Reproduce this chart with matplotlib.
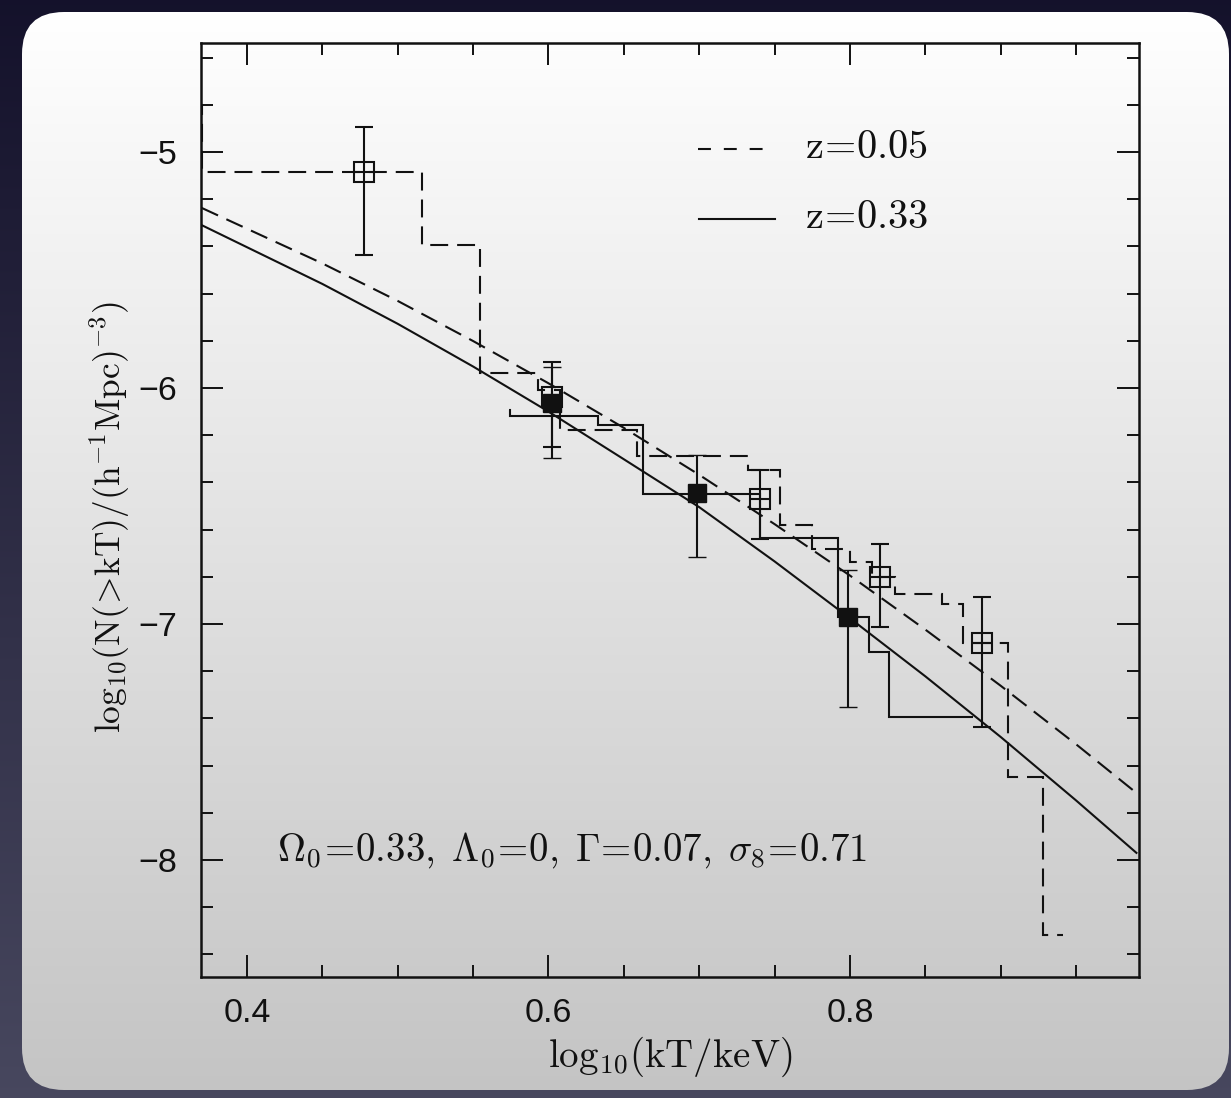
import numpy as np
import matplotlib
matplotlib.use("Agg")
import matplotlib.pyplot as plt
from matplotlib.patches import FancyBboxPatch
from matplotlib.ticker import MultipleLocator
from matplotlib.lines import Line2D

plt.rcParams['mathtext.fontset'] = 'cm'

# ---------------- data ----------------
model_x = [0.37, 0.45, 0.50, 0.55, 0.60, 0.65, 0.70, 0.75, 0.80, 0.85, 0.90, 0.95, 0.99]
model_z005 = [-5.237, -5.472, -5.631, -5.801, -5.980, -6.169, -6.368, -6.577,
              -6.795, -7.024, -7.262, -7.510, -7.716]
model_z033 = [-5.310, -5.559, -5.728, -5.909, -6.100, -6.302, -6.505, -6.735,
              -6.976, -7.222, -7.479, -7.748, -7.970]

hist_z005_edges = [0.365, 0.3702, 0.5161, 0.5546, 0.5930, 0.6076, 0.6590, 0.7323,
                   0.7536, 0.7748, 0.8000, 0.8146, 0.8298, 0.8610, 0.8750, 0.9048,
                   0.9280, 0.9413]
hist_z005_vals = [-4.80, -5.085, -5.394, -5.936, -6.008, -6.178, -6.288, -6.347,
                  -6.581, -6.682, -6.737, -6.801, -6.873, -6.915, -7.081, -7.648,
                  -8.318]

hist_z033_edges = [0.5740, 0.5745, 0.6328, 0.6627, 0.7403, 0.7920, 0.8126, 0.8259, 0.8816]
hist_z033_vals = [-6.095, -6.119, -6.157, -6.449, -6.636, -6.970, -7.119, -7.394]

pts_z005_x = [0.4776, 0.6023, 0.7403, 0.8199, 0.8876]
pts_z005_y = [-5.085, -6.038, -6.470, -6.801, -7.081]
pts_z005_lo = [-5.436, -6.250, -6.640, -7.013, -7.436]
pts_z005_hi = [-4.894, -5.890, -6.347, -6.661, -6.886]

pts_z033_x = [0.6023, 0.6988, 0.7990]
pts_z033_y = [-6.064, -6.447, -6.972]
pts_z033_lo = [-6.297, -6.716, -7.352]
pts_z033_hi = [-5.911, -6.284, -6.771]

x_ticks = [0.4, 0.6, 0.8]
x_ticklabels = ["0.4", "0.6", "0.8"]
y_ticks = [-8, -7, -6, -5]
y_ticklabels = ["\u22128", "\u22127", "\u22126", "\u22125"]

legend_labels = [r"$\mathrm{z\!=\!0.05}$", r"$\mathrm{z\!=\!0.33}$"]
annotation = (r"$\Omega_0\!=\!0.33,\;\Lambda_0\!=\!0,\;\Gamma\!=\!0.07,"
              r"\;\sigma_8\!=\!0.71$")
xlabel = r"$\mathrm{log_{10}(kT/keV)}$"
ylabel = r"$\mathrm{log_{10}(N(\!>\!kT)/(h^{-1}Mpc)^{-3})}$"

# ---------------- figure / background ----------------
W, H = 1231, 1098
fig = plt.figure(figsize=(W / 100, H / 100), dpi=100)

bg = fig.add_axes([0, 0, 1, 1], zorder=-10)
bg.set_xlim(0, W)
bg.set_ylim(H, 0)
bg.axis('off')

t = np.linspace(0, 1, 256)[:, None, None]
top_c = np.array([0.08, 0.07, 0.17])
bot_c = np.array([0.28, 0.28, 0.37])
navy = top_c * (1 - t) + bot_c * t
navy = np.repeat(navy, 4, axis=1)
bg.imshow(navy, extent=(0, W, H, 0), aspect='auto', interpolation='bilinear')

panel = FancyBboxPatch((22, 12), 1207, 1078,
                       boxstyle='round,pad=0,rounding_size=42',
                       fc='none', ec='none')
bg.add_patch(panel)
ptop = np.array([1.0, 1.0, 1.0])
pbot = np.array([0.77, 0.77, 0.77])
pan = ptop * (1 - t) + pbot * t
pan = np.repeat(pan, 4, axis=1)
im = bg.imshow(pan, extent=(22, 1229, 1090, 12), aspect='auto', interpolation='bilinear')
im.set_clip_path(panel)

# ---------------- main axes ----------------
L, R, T, B = 201, 1139, 43, 977
ax = fig.add_axes([L / W, 1 - B / H, (R - L) / W, (B - T) / H])
ax.set_facecolor('none')
ax.set_xlim(0.3695, 0.9917)
ax.set_ylim(-8.496, -4.538)

k = '#111111'
lw = 1.5

ax.plot(model_x, model_z005, color=k, lw=lw, dashes=[8.6, 4.4])
ax.plot(model_x, model_z033, color=k, lw=lw)

ax.stairs(hist_z005_vals, hist_z005_edges, baseline=None, color=k, lw=lw,
          linestyle=(0, (8.6, 4.3)))
ax.stairs(hist_z033_vals, hist_z033_edges, baseline=None, color=k, lw=lw)

yerr5 = [np.array(pts_z005_y) - np.array(pts_z005_lo),
         np.array(pts_z005_hi) - np.array(pts_z005_y)]
ax.errorbar(pts_z005_x, pts_z005_y, yerr=yerr5, fmt='s', ms=14, mfc='none',
            mec=k, mew=1.5, ecolor=k, elinewidth=lw, capsize=6.5, capthick=lw)
ax.plot(pts_z005_x, pts_z005_y, '_', ms=15, mew=1.5, color=k)

yerr33 = [np.array(pts_z033_y) - np.array(pts_z033_lo),
          np.array(pts_z033_hi) - np.array(pts_z033_y)]
ax.errorbar(pts_z033_x, pts_z033_y, yerr=yerr33, fmt='s', ms=13.5, mfc=k,
            mec=k, mew=1.0, ecolor=k, elinewidth=lw, capsize=6.5, capthick=lw)

# ticks
for s in ax.spines.values():
    s.set_linewidth(1.8)
    s.set_color(k)
ax.set_xticks(x_ticks)
ax.set_xticklabels(x_ticklabels)
ax.set_yticks(y_ticks)
ax.set_yticklabels(y_ticklabels)
ax.xaxis.set_minor_locator(MultipleLocator(0.05))
ax.yaxis.set_minor_locator(MultipleLocator(0.2))
ax.tick_params(which='both', direction='in', top=True, right=True, color=k,
               width=1.4)
ax.tick_params(which='major', length=16)
ax.tick_params(which='minor', length=8.6)
ax.tick_params(axis='x', which='major', pad=15)
ax.tick_params(axis='y', which='major', pad=17)
for lab in ax.get_xticklabels() + ax.get_yticklabels():
    lab.set_fontfamily('Liberation Sans')
    lab.set_fontsize(24.5)
    lab.set_color(k)


def axc(px, py):
    return ((px - L) / (R - L), (B - py) / (B - T))


# legend (manual)
x0, y0 = axc(698, 149)
x1, _ = axc(765, 149)
ax.add_line(Line2D([x0, x1], [y0, y0], transform=ax.transAxes, color=k, lw=lw,
                   dashes=[6.2, 6.2]))
x0, y1 = axc(699, 219)
x1, _ = axc(775, 219)
ax.add_line(Line2D([x0, x1], [y1, y1], transform=ax.transAxes, color=k, lw=lw))
tx, ty = axc(805, 158)
ax.text(tx, ty, legend_labels[0], transform=ax.transAxes, fontsize=29,
        va='baseline', ha='left', color=k)
tx, ty = axc(805, 228)
ax.text(tx, ty, legend_labels[1], transform=ax.transAxes, fontsize=29,
        va='baseline', ha='left', color=k)

# annotation
tx, ty = axc(277, 861)
ax.text(tx, ty, annotation, transform=ax.transAxes, fontsize=28,
        va='baseline', ha='left', color=k)

# axis labels
fig.text(670 / W, 1 - 1057 / H, xlabel, fontsize=28, ha='center', va='center', color=k)
fig.text(110 / W, 1 - 517 / H, ylabel, fontsize=25.5, ha='center', va='center',
         rotation=90, color=k)

fig.savefig('out.png', dpi=100)
